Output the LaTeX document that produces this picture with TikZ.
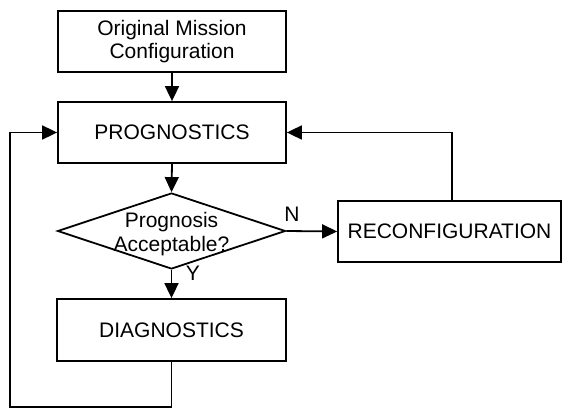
\documentclass[tikz,border=0pt]{standalone}
\usepackage{fontspec}
\setmainfont{Liberation Sans}
\usetikzlibrary{arrows.meta,shapes.geometric}
\begin{document}
\begin{tikzpicture}[x=1pt,y=-1pt,
  every node/.style={font=\fontsize{21}{23.3}\selectfont},
  box/.style={draw,line width=1.8pt,rectangle,inner sep=0pt,align=center},
  dia/.style={draw,line width=1.8pt,diamond,inner sep=0pt,minimum width=228pt,minimum height=76pt},
  txt/.style={align=center,inner sep=0pt},
  lbl/.style={inner sep=0pt},
  arr/.style={line width=1.8pt,-{Triangle[length=15pt,width=14pt]}},
  ln/.style={line width=1.8pt}]
\useasboundingbox (0,0) rectangle (563,412);
\node[box,minimum width=228pt,minimum height=61pt] (orig) at (172,41.5) {Original Mission\\Configuration};
\node[box,minimum width=228pt,minimum height=61pt] (prog) at (172,132.5) {PROGNOSTICS};
\node[dia] (acc) at (171.5,231) {};
\node[txt] (acct) at (171.5,234) {Prognosis\\Acceptable?};
\node[box,minimum width=229pt,minimum height=62pt] (diag) at (171.5,330) {DIAGNOSTICS};
\node[box,minimum width=223pt,minimum height=61pt] (rec) at (449.5,231.5) {RECONFIGURATION};
\node[lbl] (n) at (292,214) {N};
\node[lbl] (y) at (193,273) {Y};
\coordinate (lb) at (10,407);
\coordinate (rt) at (452,201);
\draw[arr] (orig.south) -- (prog.north);
\draw[arr] (prog.south) -- (acc.north);
\draw[arr] (acc.east) -- (rec.west);
\draw[arr] (acc.south) -- (diag.north);
\draw[arr] (rt) |- (prog.east);
\draw[arr] (diag.south) |- (lb) |- (prog.west);
\end{tikzpicture}
\end{document}
